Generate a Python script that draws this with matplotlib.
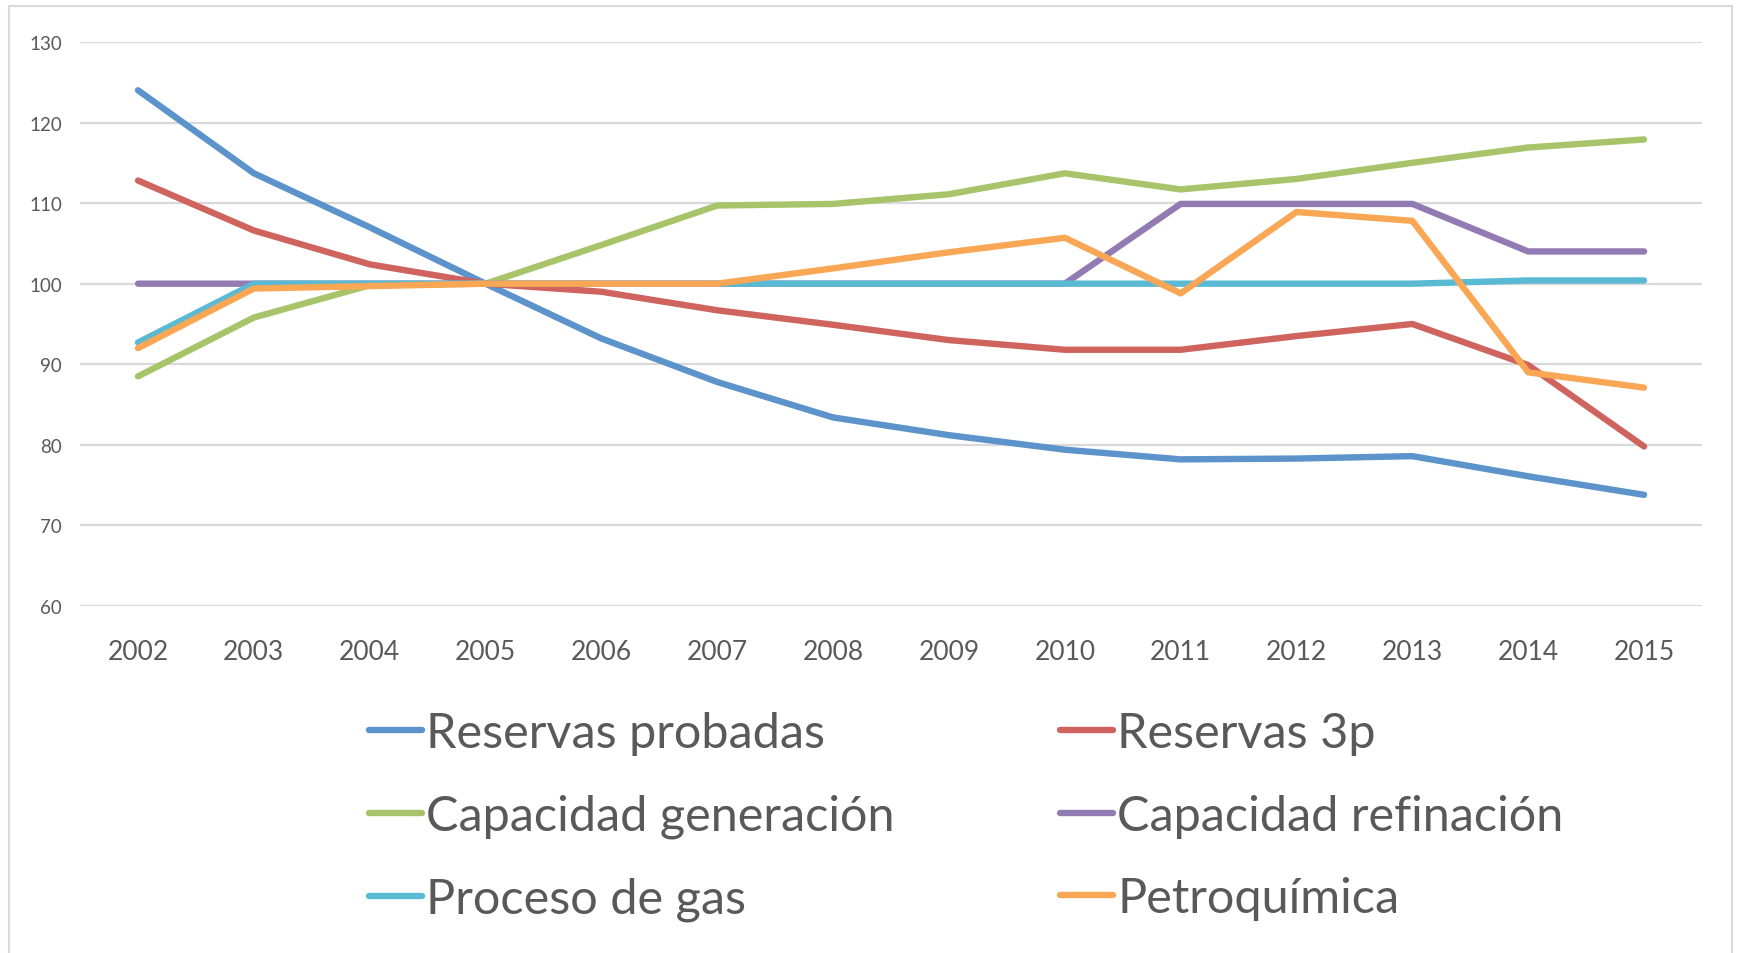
import matplotlib.pyplot as plt
from matplotlib.patches import Rectangle

# Data (index, 2005 = 100)
years = ['2002', '2003', '2004', '2005', '2006', '2007', '2008',
         '2009', '2010', '2011', '2012', '2013', '2014', '2015']
reservas_probadas = [124.0, 113.7, 107.0, 100, 93.2, 87.8, 83.4,
                     81.2, 79.4, 78.2, 78.3, 78.6, 76.1, 73.8]
reservas_3p = [112.8, 106.6, 102.4, 100, 99.0, 96.7, 94.9,
               93.0, 91.8, 91.8, 93.5, 95.0, 89.9, 79.8]
capacidad_generacion = [88.5, 95.8, 99.8, 100, 104.8, 109.7, 109.9,
                        111.1, 113.7, 111.7, 113.0, 115.0, 116.9, 117.9]
capacidad_refinacion = [100, 100, 100, 100, 100, 100, 100,
                        100, 100, 109.9, 109.9, 109.9, 104.0, 104.0]
proceso_gas = [92.7, 100, 100, 100, 100, 100, 100,
               100, 100, 100, 100, 100, 100.4, 100.4]
petroquimica = [92.0, 99.4, 99.7, 100, 100, 100, 101.9,
                103.9, 105.7, 98.8, 108.9, 107.8, 89.0, 87.1]

labels = ['Reservas probadas', 'Reservas 3p', 'Capacidad generación',
          'Capacidad refinación', 'Proceso de gas', 'Petroquímica']
series = [reservas_probadas, reservas_3p, capacidad_generacion,
          capacidad_refinacion, proceso_gas, petroquimica]
colors = ['#5B93CA', '#CF645E', '#A8C46A', '#927BB3', '#5AB9D3', '#F9A655']

plt.rcParams['font.family'] = ['Lato', 'DejaVu Sans']
txt = '#595959'

fig = plt.figure(figsize=(17.41, 9.54), dpi=100)
ax = fig.add_axes([0.046, 0.3637, 0.9316, 0.5913])

x = range(len(years))
lines = []
for vals, lab, c in zip(series, labels, colors):
    ln, = ax.plot(x, vals, color=c, lw=4.6, label=lab, solid_capstyle='round',
                  solid_joinstyle='round')
    lines.append(ln)

ax.set_xlim(-0.5, len(years) - 0.5)
ax.set_ylim(60, 130)
ax.set_yticks(range(60, 131, 10))
ax.set_xticks(list(x))
ax.set_xticklabels(years)
ax.grid(True, axis='y', color='#D9D9D9', lw=1.6)
ax.set_axisbelow(True)
for s in ax.spines.values():
    s.set_visible(False)
ax.tick_params(axis='y', length=0, pad=13, labelsize=13.5, labelcolor=txt)
ax.tick_params(axis='x', length=0, pad=24, labelsize=19, labelcolor=txt)

# legend filled row by row like the original (matplotlib fills by column)
order = [0, 2, 4, 1, 3, 5]
leg = fig.legend([lines[i] for i in order], [labels[i] for i in order],
                 loc='center', bbox_to_anchor=(966 / 1741, 0.1435), ncol=2,
                 frameon=False, fontsize=35, handlelength=1.1,
                 handletextpad=0.08, columnspacing=3.4, labelspacing=0.8,
                 borderpad=0)
for t in leg.get_texts():
    t.set_color(txt)

# light chart border
fig.patches.append(Rectangle((9 / 1741, -0.01), (1732 - 9) / 1741, 1.0 - 7 / 954 + 0.01,
                             transform=fig.transFigure, fill=False,
                             edgecolor='#D9D9D9', lw=1.5))

plt.savefig('out.png', dpi=100)
